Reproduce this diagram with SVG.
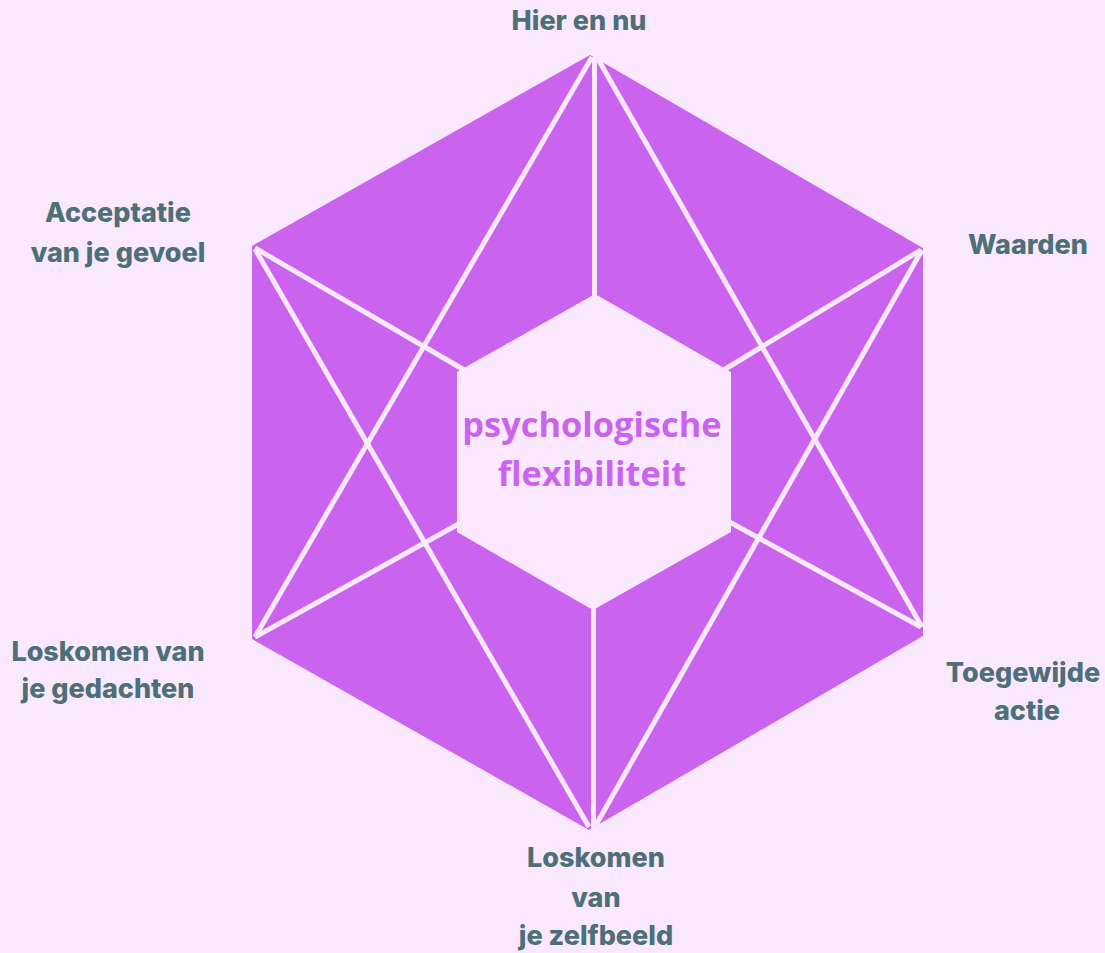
<svg xmlns="http://www.w3.org/2000/svg" width="1105" height="953" viewBox="0 0 1105 953">
  <style>
    .bg { fill: #f9e8fe; }
    .shape { fill: #ca64ee; }
    .line { stroke: #f9e8fe; stroke-width: 5; stroke-linecap: butt; fill: none; }
    .label { font-family: Inter, "Liberation Sans", sans-serif; font-weight: 800; font-size: 27px; fill: #4c6f78; text-anchor: middle; }
    .core { font-family: "Open Sans", "Liberation Sans", sans-serif; font-weight: 700; font-size: 34.4px; fill: #c964ee; text-anchor: middle; }
  </style>

  <rect class="bg" x="0" y="0" width="1105" height="953"/>

  <!-- outer hexagon -->
  <g id="hexagon">
    <polygon class="shape" points="590,55 923,248 923,636 589,830 252,639 252,246"/>
  </g>

  <!-- dividing lines: star triangles and spokes to the core -->
  <g id="connectors">
    <line class="line" x1="592" y1="57" x2="255" y2="637"/>
    <line class="line" x1="598" y1="59" x2="922" y2="627"/>
    <line class="line" x1="255" y1="249" x2="589" y2="827"/>
    <line class="line" x1="922" y1="250" x2="596" y2="825"/>
    <line class="line" x1="594.5" y1="57" x2="594.5" y2="300"/>
    <line class="line" x1="593.5" y1="600" x2="593.5" y2="829"/>
    <line class="line" x1="255" y1="248" x2="466" y2="371"/>
    <line class="line" x1="921" y1="250" x2="722" y2="371"/>
    <line class="line" x1="255" y1="637" x2="464" y2="521"/>
    <line class="line" x1="921" y1="627" x2="724" y2="519"/>
  </g>

  <!-- core -->
  <g id="core">
    <polygon class="bg" points="595,294 731,372 731,532 593,610 457,532 457,372"/>
    <text class="core" x="592" y="437">psychologische</text>
    <text class="core" x="592" y="486">flexibiliteit</text>
  </g>

  <g id="label-hier-en-nu">
    <text class="label" x="579" y="30">Hier en nu</text>
  </g>
  <g id="label-waarden">
    <text class="label" x="1028" y="254">Waarden</text>
  </g>
  <g id="label-toegewijde-actie">
    <text class="label" x="1023" y="682">Toegewijde</text>
    <text class="label" x="1027" y="720">actie</text>
  </g>
  <g id="label-zelfbeeld">
    <text class="label" x="596" y="867">Loskomen</text>
    <text class="label" x="596" y="907">van</text>
    <text class="label" x="596" y="945">je zelfbeeld</text>
  </g>
  <g id="label-gedachten">
    <text class="label" x="108" y="661">Loskomen van</text>
    <text class="label" x="108" y="698">je gedachten</text>
  </g>
  <g id="label-acceptatie">
    <text class="label" x="118" y="222">Acceptatie</text>
    <text class="label" x="118" y="262">van je gevoel</text>
  </g>
</svg>
